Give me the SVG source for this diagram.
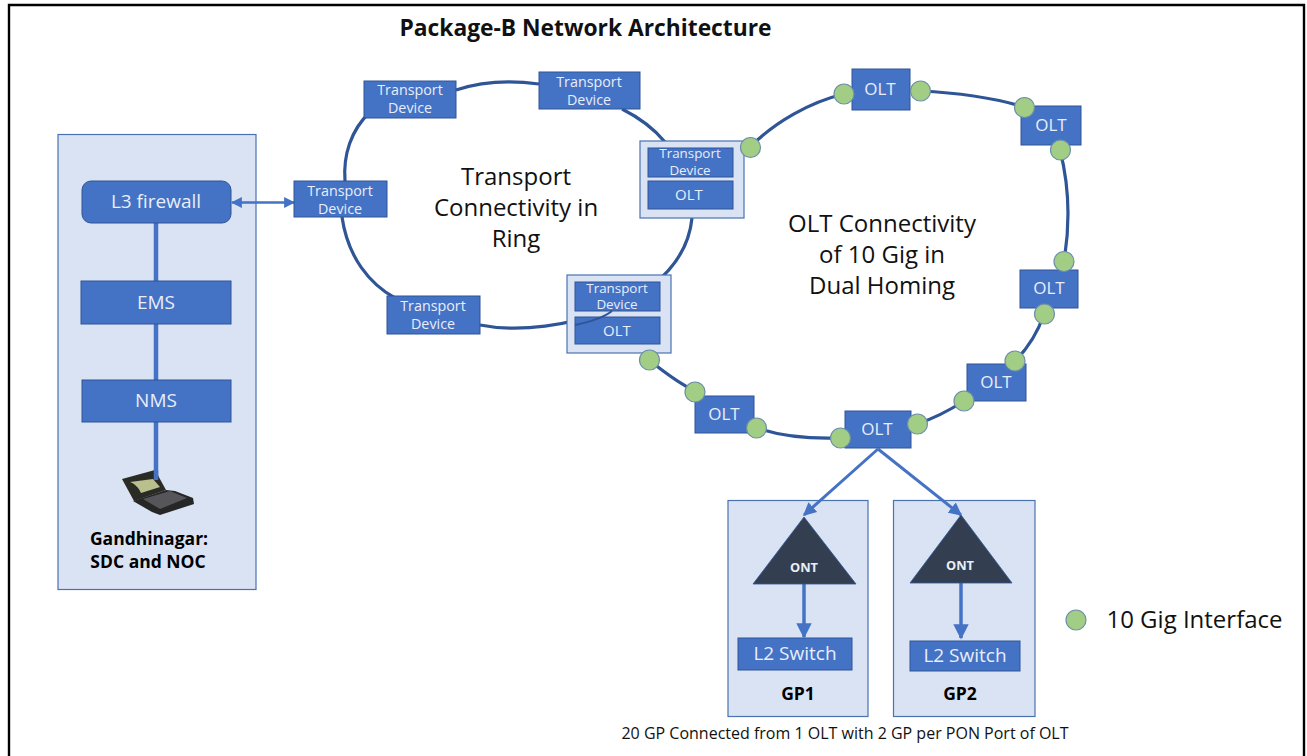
<svg xmlns="http://www.w3.org/2000/svg" width="1307" height="756" viewBox="0 0 1307 756">
<defs>
<style>
text{font-family:"Open Sans","Noto Sans","Liberation Sans",sans-serif;text-anchor:middle}
.panel{fill:#dae3f3;stroke:#4a72b0;stroke-width:1.2}
.box{fill:#4472c4;stroke:#2f5597;stroke-width:1}
.w{fill:#e8eefa}
.td{font-size:14.300px}
.ctd{font-size:13.400px}
.olt{font-size:17px}
.sys{font-size:19px}
.bk{fill:#000;font-weight:700;font-size:17.500px}
.big{fill:#111;font-size:24px}
.ring{fill:none;stroke:#2f5597;stroke-width:3.2}
.link{fill:none;stroke:#4472c4;stroke-width:4.5}
.thin{fill:none;stroke:#4472c4;stroke-width:3}
.if{fill:#a2cd85;stroke:#6d8fa8;stroke-width:1.2}
.tri{fill:#333f50;stroke:#2f5597;stroke-width:.8}
</style>
<marker id="a" viewBox="0 0 10 10" refX="9" refY="5" markerWidth="4.4" markerHeight="4.4" orient="auto-start-reverse"><path d="M0 0L10 5L0 10Z" fill="#4472c4"/></marker>
</defs>
<rect width="1307" height="756" fill="#fff"/>
<path d="M9 756V5H1304V756" fill="none" stroke="#000" stroke-width="2.4"/>
<text x="585.500" y="36" style="font-weight:700;font-size:22.800px;fill:#111">Package-B Network Architecture</text>

<g id="panels">
<rect class="panel" x="58" y="134.500" width="198" height="455"/>
<rect class="panel" x="728" y="500.500" width="140" height="216"/>
<rect class="panel" x="893.500" y="500.500" width="141.500" height="216"/>
</g>

<g id="connectors">
<path class="ring" d="M370 112C351 130 343 155 345 181"/>
<path class="ring" d="M342 217C348 258 370 284 395 298"/>
<path class="ring" d="M456 90C480 82 510 80 539 84"/>
<path class="ring" d="M622 109C640 118 655 130 665 142"/>
<path class="ring" d="M480 325C520 333 570 325 610 310"/>
<path class="ring" d="M610 310C660 288 688 258 692 218"/>
<path class="ring" d="M750 147C775 122 810 102 844 94"/>
<path class="ring" d="M920 91C960 93 995 98 1024 107"/>
<path class="ring" d="M1060 150C1069 185 1070 225 1064 261"/>
<path class="ring" d="M1044 314C1038 332 1028 348 1015 361"/>
<path class="ring" d="M964 401C950 410 935 418 917 424"/>
<path class="ring" d="M840 438C810 439 780 436 757 428"/>
<path class="ring" d="M695 391C680 384 664 372 649 360"/>
<path class="thin" style="stroke-width:2.500" marker-start="url(#a)" marker-end="url(#a)" d="M232 202.500H294"/>
<path class="link" d="M156 223V281M156 324V380M156 422V478"/>
<path class="thin" marker-end="url(#a)" d="M878 449L804 515"/>
<path class="thin" marker-end="url(#a)" d="M878 449L961 515"/>
<path class="thin" style="stroke-width:3.500" marker-end="url(#a)" d="M804 584V637"/>
<path class="thin" style="stroke-width:3.500" marker-end="url(#a)" d="M961 583V638"/>
</g>

<g id="firewall"><rect class="box" x="82" y="181" width="149" height="42" rx="9"/><text class="w sys" x="156" y="208">L3 firewall</text></g>
<g id="ems"><rect class="box" x="81" y="281" width="150" height="43"/><text class="w sys" x="156" y="309">EMS</text></g>
<g id="nms"><rect class="box" x="82" y="380" width="149" height="42"/><text class="w sys" x="156" y="407">NMS</text></g>
<g id="laptop">
<path d="M122 479L155 470L166 490L134 501Z" fill="#2b2b26"/>
<path d="M130 482L153 479L160 487L141 493C139 488 135 484 130 482Z" fill="#b9bf8d"/>
<path d="M133 501L166 490L175 491L193 498L194 504L160 515L152 512Z" fill="#262626"/>
<path d="M143 499L170 491L187 498L160 509Z" fill="#55555a"/>
<path d="M156 470V480" stroke="#4472c4" stroke-width="4.500"/>
</g>
<g id="noc-label"><text class="bk" x="149" y="545">Gandhinagar:</text><text class="bk" x="148" y="568">SDC and NOC</text></g>

<g id="td1"><rect class="box" x="364" y="81" width="92" height="37"/><text class="w td" x="410" y="95">Transport</text><text class="w td" x="410" y="113">Device</text></g>
<g id="td2"><rect class="box" x="539" y="72" width="101" height="37"/><text class="w td" x="589" y="87">Transport</text><text class="w td" x="589" y="105">Device</text></g>
<g id="td3"><rect class="box" x="294" y="181" width="93" height="36"/><text class="w td" x="340" y="196">Transport</text><text class="w td" x="340" y="214">Device</text></g>
<g id="td4"><rect class="box" x="387" y="296" width="93" height="38"/><text class="w td" x="433" y="311">Transport</text><text class="w td" x="433" y="329">Device</text></g>

<g id="combo1">
<rect class="panel" x="640" y="141" width="104" height="77"/>
<rect class="box" x="648" y="148" width="85" height="29"/><text class="w ctd" x="690" y="158">Transport</text><text class="w ctd" x="690" y="175">Device</text>
<rect class="box" x="648" y="181" width="85" height="28"/><text class="w" style="font-size:15px" x="689" y="200">OLT</text>
</g>
<g id="combo2">
<rect class="panel" x="567" y="275" width="104" height="78"/>
<rect class="box" x="575" y="282" width="85" height="29"/><text class="w ctd" x="617" y="293">Transport</text><text class="w ctd" x="617" y="309">Device</text>
<rect class="box" x="575" y="317" width="85" height="27"/><text class="w" style="font-size:15px" x="617" y="336">OLT</text>
<path d="M575 325C590 322 603 318 612 311" fill="none" stroke="#2f5597" stroke-width="2"/>
</g>

<g id="olt1"><rect class="box" x="852" y="69" width="58" height="41"/><text class="w olt" x="880" y="95">OLT</text></g>
<g id="olt2"><rect class="box" x="1021" y="106" width="60" height="39"/><text class="w olt" x="1051" y="131">OLT</text></g>
<g id="olt3"><rect class="box" x="1020" y="270" width="58" height="38"/><text class="w olt" x="1049" y="294">OLT</text></g>
<g id="olt4"><rect class="box" x="967" y="364" width="59" height="37"/><text class="w olt" x="996" y="388">OLT</text></g>
<g id="olt5"><rect class="box" x="845" y="411" width="66" height="37"/><text class="w olt" x="877" y="435">OLT</text></g>
<g id="olt6"><rect class="box" x="695" y="396" width="59" height="37"/><text class="w olt" x="724" y="420">OLT</text></g>

<g id="interfaces">
<circle class="if" cx="750.500" cy="147.500" r="10"/><circle class="if" cx="844" cy="94" r="10"/><circle class="if" cx="920.500" cy="91" r="10"/><circle class="if" cx="1024.500" cy="107.500" r="10"/><circle class="if" cx="1060.500" cy="150" r="10"/><circle class="if" cx="1064" cy="261.500" r="10"/><circle class="if" cx="1044.500" cy="314" r="10"/><circle class="if" cx="1015" cy="361" r="10"/><circle class="if" cx="964" cy="401" r="10"/><circle class="if" cx="917.500" cy="424" r="10"/><circle class="if" cx="840.500" cy="438" r="10"/><circle class="if" cx="756.500" cy="428" r="10"/><circle class="if" cx="695" cy="392" r="10"/><circle class="if" cx="649.500" cy="360" r="10"/>
</g>

<g id="ont1"><path class="tri" d="M804 517L856 584H753Z"/><text class="w" style="font-size:12.800px;font-weight:700" x="804" y="572">ONT</text></g>
<g id="ont2"><path class="tri" d="M961 515L1012 583H910Z"/><text class="w" style="font-size:12.800px;font-weight:700" x="960" y="570">ONT</text></g>
<g id="sw1"><rect class="box" x="738" y="638" width="114" height="32"/><text class="w sys" x="795" y="660">L2 Switch</text></g>
<g id="sw2"><rect class="box" x="910" y="641" width="110" height="30"/><text class="w sys" x="965" y="662">L2 Switch</text></g>
<g id="gp1-label"><text class="bk" x="798" y="700">GP1</text></g>
<g id="gp2-label"><text class="bk" x="960" y="700">GP2</text></g>

<text class="big" x="516" y="185">Transport</text><text class="big" x="516" y="216">Connectivity in</text><text class="big" x="516" y="247">Ring</text>
<text class="big" x="882" y="232">OLT Connectivity</text><text class="big" x="882" y="263">of 10 Gig in</text><text class="big" x="882" y="294">Dual Homing</text>
<text x="845" y="739" style="font-size:16px;fill:#111">20 GP Connected from 1 OLT with 2 GP per PON Port of OLT</text>
<g id="legend"><circle class="if" cx="1076" cy="620" r="10"/><text x="1194.500" y="628" style="font-size:24px;fill:#111">10 Gig Interface</text></g>
</svg>
